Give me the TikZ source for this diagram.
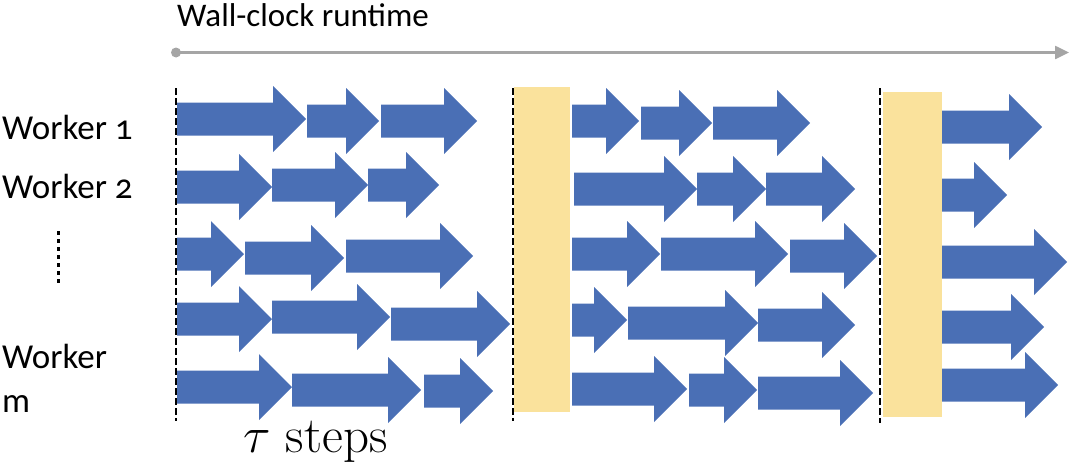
\RequirePackage{fix-cm}
\documentclass[tikz,border=0pt]{standalone}
\usepackage{fontspec}
\newfontfamily\labelfont[Numbers=OldStyle]{Carlito}
\usetikzlibrary{arrows.meta}
\definecolor{arrowblue}{HTML}{4A6FB5}
\definecolor{baryellow}{HTML}{FAE29C}
\definecolor{axisgray}{HTML}{A5A5A5}
\newcommand{\blockarrow}[3]{%
  \fill[arrowblue] (#1,#3-16.5) -- (#2-33,#3-16.5) -- (#2-33,#3-33) -- (#2,#3)
    -- (#2-33,#3+33) -- (#2-33,#3+16.5) -- (#1,#3+16.5) -- cycle;}
\begin{document}
\begin{tikzpicture}[x=1pt,y=-1pt,
  lbl/.style={inner sep=0pt,anchor=base west,font=\labelfont\fontsize{35}{38}\selectfont},
  syncbar/.style={fill=baryellow,draw=none},
  roundline/.style={black,line width=2pt,dash pattern=on 7pt off 3pt},
  axis/.style={axisgray,line width=2.5pt}]
\useasboundingbox (0,0) rectangle (1071,471);
% timeline
\node[inner sep=0pt,anchor=base west,font=\labelfont\fontsize{33}{36}\selectfont] (title) at (177,26) {Wall-clock runtime};
\node[circle,fill=axisgray,inner sep=0pt,minimum size=10pt] (t0) at (176,52.5) {};
\coordinate (t1) at (1069,52.5);
\draw[axis,-{Triangle[length=14pt,width=13pt]}] (t0.center) -- (t1);
% worker labels
\node[lbl] (w1) at (2,139) {Worker 1};
\node[lbl] (w2) at (2,198) {Worker 2};
\node[lbl] (wm) at (2,368) {Worker};
\node[lbl] (m) at (2,412) {m};
\coordinate (d0) at (58.5,231);
\coordinate (d1) at (58.5,285);
\draw[black,line width=3.5pt,dash pattern=on 3.5pt off 4.5pt] (d0) -- (d1);
% sync bars
\fill[syncbar] (514,87) rectangle (570,412);
\fill[syncbar] (883,92) rectangle (942,417);
% dashed boundaries
\coordinate (s0a) at (176,88); \coordinate (s0b) at (176,421);
\coordinate (s1a) at (513,88); \coordinate (s1b) at (513,421);
\coordinate (s2a) at (880,88); \coordinate (s2b) at (880,423);
\draw[roundline] (s0a) -- (s0b);
\draw[roundline] (s1a) -- (s1b);
\draw[roundline] (s2a) -- (s2b);
% section 1
\blockarrow{177}{306}{119}
\blockarrow{307}{379}{121}
\blockarrow{381}{477}{121}
\blockarrow{177}{272}{187}
\blockarrow{272}{368}{185}
\blockarrow{368}{439}{185}
\blockarrow{177}{244}{254}
\blockarrow{245}{344}{258}
\blockarrow{346}{473}{256}
\blockarrow{177}{272}{319}
\blockarrow{272}{390}{317}
\blockarrow{391}{510}{324}
\blockarrow{177}{292}{387}
\blockarrow{292}{421}{390}
\blockarrow{424}{493}{391}
% section 2
\blockarrow{572}{639}{121}
\blockarrow{641}{712}{123}
\blockarrow{713}{810}{123}
\blockarrow{574}{697}{189}
\blockarrow{697}{766}{189}
\blockarrow{766}{855}{189}
\blockarrow{572}{660}{254}
\blockarrow{661}{788}{254}
\blockarrow{790}{877}{256}
\blockarrow{572}{627}{320}
\blockarrow{628}{758}{323}
\blockarrow{758}{855}{325}
\blockarrow{572}{687}{389}
\blockarrow{689}{757}{390}
\blockarrow{758}{873}{393}
% section 3
\blockarrow{942}{1042}{127}
\blockarrow{942}{1007}{195}
\blockarrow{942}{1067}{262}
\blockarrow{942}{1044}{327}
\blockarrow{942}{1058}{385}
% tau steps
\node[inner sep=0pt,anchor=base west,font=\fontsize{51}{55}\selectfont] (tau) at (243,452) {$\tau$ steps};
\end{tikzpicture}
\end{document}
